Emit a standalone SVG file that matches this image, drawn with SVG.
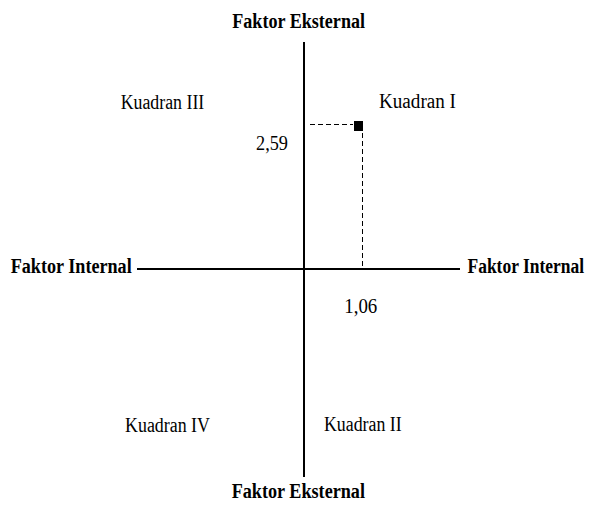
<svg xmlns="http://www.w3.org/2000/svg" width="590" height="512" viewBox="0 0 590 512">
<style>
.t{font-family:"Liberation Serif","Times New Roman",serif;font-size:20px;fill:#000}
.b{font-weight:bold}
.axis{stroke:#000;stroke-width:2;fill:none}
.dash{stroke:#000;stroke-width:1;fill:none;stroke-dasharray:5,3}
</style>
<rect width="590" height="512" fill="#fff"/>
<g id="connectors">
<line class="axis" x1="304" y1="42" x2="304" y2="477"/>
<line class="axis" x1="137" y1="269" x2="460" y2="269"/>
<line class="dash" x1="310" y1="124.5" x2="353" y2="124.5"/>
<line class="dash" x1="362.5" y1="133" x2="362.5" y2="268"/>
</g>
<g id="point"><rect x="354" y="121" width="9" height="10" fill="#000"/></g>
<g id="label-top"><text class="t b" x="232.3" y="28" textLength="132.7" lengthAdjust="spacingAndGlyphs">Faktor Eksternal</text></g>
<g id="label-bottom"><text class="t b" x="231.7" y="498" textLength="133.3" lengthAdjust="spacingAndGlyphs">Faktor Eksternal</text></g>
<g id="label-left"><text class="t b" x="10.7" y="273" textLength="121" lengthAdjust="spacingAndGlyphs">Faktor Internal</text></g>
<g id="label-right"><text class="t b" transform="translate(467.5 273) scale(0.874 1)">Faktor Internal</text></g>
<g id="kuadran-3"><text class="t" x="120.7" y="109" textLength="83.6" lengthAdjust="spacingAndGlyphs">Kuadran III</text></g>
<g id="kuadran-1"><text class="t" x="379" y="108" textLength="77" lengthAdjust="spacingAndGlyphs">Kuadran I</text></g>
<g id="kuadran-4"><text class="t" x="125" y="431.5" textLength="85" lengthAdjust="spacingAndGlyphs">Kuadran IV</text></g>
<g id="kuadran-2"><text class="t" x="324" y="431" textLength="77.7" lengthAdjust="spacingAndGlyphs">Kuadran II</text></g>
<g id="value-y"><text class="t" x="256" y="150" textLength="32" lengthAdjust="spacingAndGlyphs">2,59</text></g>
<g id="value-x"><text class="t" x="344.3" y="312.5" textLength="33" lengthAdjust="spacingAndGlyphs">1,06</text></g>
</svg>
